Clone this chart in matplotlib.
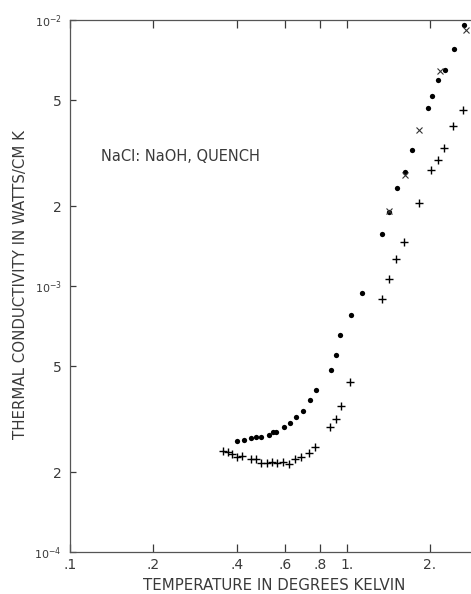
import matplotlib
matplotlib.use("Agg")
import matplotlib.pyplot as plt
from matplotlib.ticker import FixedLocator, NullLocator

# Filled circles
dot_T = [0.401, 0.424, 0.451, 0.470, 0.490, 0.523, 0.540, 0.555, 0.592, 0.624,
         0.658, 0.693, 0.735, 0.773, 0.875, 0.915, 0.948, 1.039, 1.133, 1.345,
         1.426, 1.516, 1.620, 1.718, 1.967, 2.039, 2.143, 2.266, 2.443, 2.661]
dot_K = [2.61e-4, 2.64e-4, 2.68e-4, 2.71e-4, 2.71e-4, 2.75e-4, 2.83e-4, 2.84e-4, 2.95e-4, 3.06e-4,
         3.23e-4, 3.39e-4, 3.73e-4, 4.06e-4, 4.83e-4, 5.49e-4, 6.55e-4, 7.80e-4, 9.39e-4, 1.573e-3,
         1.893e-3, 2.341e-3, 2.690e-3, 3.254e-3, 4.668e-3, 5.165e-3, 5.964e-3, 6.504e-3, 7.779e-3, 9.60e-3]

# Crosses (x)
x_T = [1.426, 1.620, 1.830, 2.174, 2.692]
x_K = [1.919e-3, 2.615e-3, 3.859e-3, 6.447e-3, 9.17e-3]

# Plus signs
p_T = [0.358, 0.372, 0.386, 0.400, 0.418, 0.450, 0.469, 0.490, 0.514, 0.536,
       0.559, 0.587, 0.620, 0.650, 0.684, 0.729, 0.766, 0.870, 0.913, 0.951,
       1.030, 1.345, 1.419, 1.507, 1.607, 1.820, 2.012, 2.133, 2.242, 2.416, 2.639]
p_K = [2.40e-4, 2.38e-4, 2.34e-4, 2.29e-4, 2.31e-4, 2.24e-4, 2.24e-4, 2.17e-4, 2.17e-4, 2.18e-4,
       2.16e-4, 2.18e-4, 2.15e-4, 2.24e-4, 2.29e-4, 2.36e-4, 2.48e-4, 2.95e-4, 3.17e-4, 3.55e-4,
       4.38e-4, 8.93e-4, 1.062e-3, 1.263e-3, 1.467e-3, 2.047e-3, 2.737e-3, 2.969e-3, 3.294e-3, 3.985e-3, 4.575e-3]

xticks = [0.1, 0.2, 0.4, 0.6, 0.8, 1.0, 2.0]
xticklabels = [".1", ".2", ".4", ".6", ".8", "1.", "2."]
yticks = [1e-4, 2e-4, 5e-4, 1e-3, 2e-3, 5e-3, 1e-2]
yticklabels = [r"$10^{-4}$", "2", "5", r"$10^{-3}$", "2", "5", r"$10^{-2}$"]

plt.rcParams['font.family'] = ['DejaVu Sans']
txtc = '#3a3a3a'

fig = plt.figure(figsize=(4.71, 5.94), dpi=100)
ax = fig.add_axes([70/471, 1 - 552.3/594, 1 - 70/471, (552.3 - 20)/594])
ax.set_xscale('log')
ax.set_yscale('log')
ax.set_xlim(0.1, 2.813)
ax.set_ylim(1e-4, 1e-2)

ax.plot(dot_T, dot_K, 'o', color='black', markersize=3.8, markeredgewidth=0)
ax.plot(x_T, x_K, 'x', color='#333333', markersize=4.2, markeredgewidth=0.8)
ax.plot(p_T, p_K, '+', color='black', markersize=5.5, markeredgewidth=1.0)

ax.xaxis.set_major_locator(FixedLocator(xticks))
ax.xaxis.set_minor_locator(NullLocator())
ax.set_xticklabels(xticklabels)
ax.yaxis.set_major_locator(FixedLocator(yticks))
ax.yaxis.set_minor_locator(NullLocator())
ax.set_yticklabels(yticklabels)

ax.tick_params(axis='x', direction='in', length=6, width=0.9, top=True, pad=4,
               labelsize=10, colors=txtc)
ax.tick_params(axis='y', direction='in', length=4, width=0.9, pad=6,
               labelsize=10, colors=txtc)
for lab in ax.get_yticklabels():
    if '10' in lab.get_text():
        lab.set_fontsize(8)

for s in ['left', 'bottom', 'top']:
    ax.spines[s].set_color('#555555')
    ax.spines[s].set_linewidth(0.9)
ax.spines['right'].set_visible(False)

ax.text(101/471, 1 - 156.7/594, "NaCl: NaOH, QUENCH", transform=fig.transFigure,
        fontsize=10.5, color=txtc, va='center', ha='left')

fig.text(0.5 * (140 + 408) / 471, 1 - 586/594, "TEMPERATURE IN DEGREES KELVIN",
         fontsize=10.8, color=txtc, ha='center', va='center')
fig.text(21/471, 1 - 285/594, "THERMAL CONDUCTIVITY IN WATTS/CM K",
         fontsize=10.8, color=txtc, ha='center', va='center', rotation=90)

fig.savefig("out.png", dpi=100)
